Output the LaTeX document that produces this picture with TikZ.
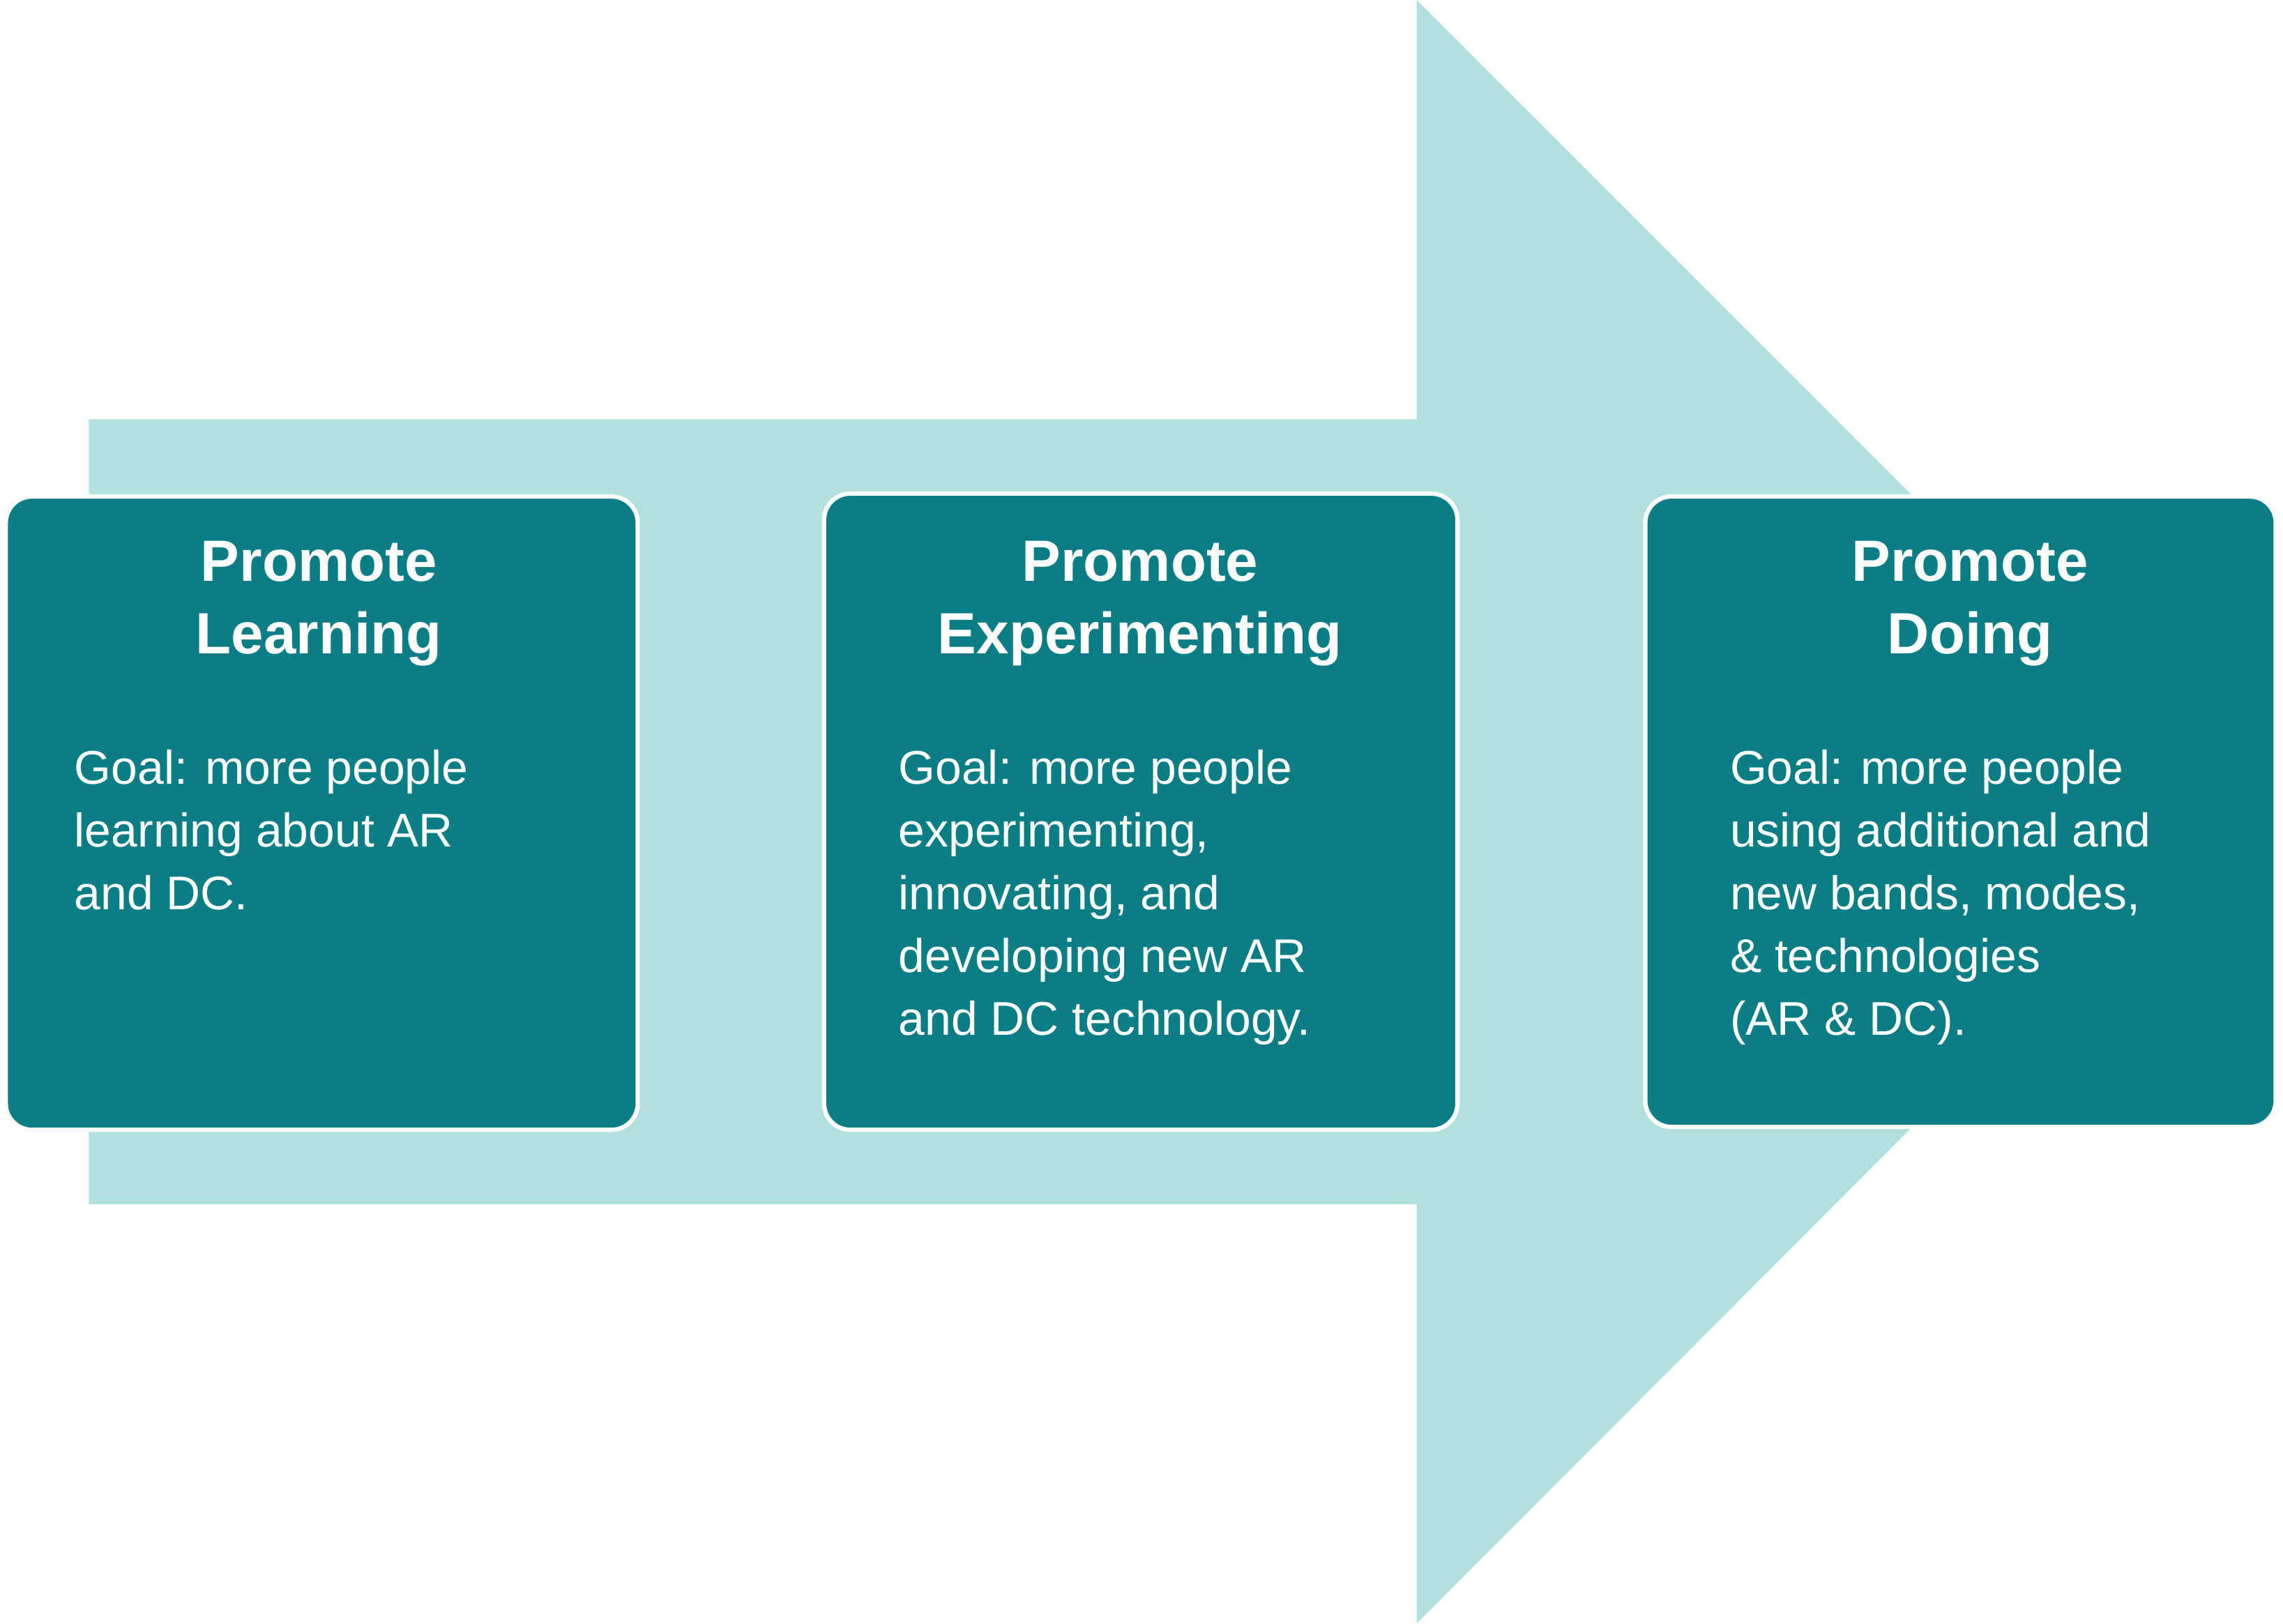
\documentclass[tikz,border=0pt]{standalone}
\usepackage{fontspec}
\setmainfont{Liberation Sans}
\definecolor{arrowc}{HTML}{B2E0DE}
\definecolor{boxc}{HTML}{0A7E84}
\begin{document}
\begin{tikzpicture}[x=1pt,y=-1pt,
  stagebox/.style={draw=white,line width=3pt,fill=boxc,rounded corners=18pt},
  ttl/.style={text=white,font=\fontsize{40}{50}\selectfont\bfseries,align=center,anchor=north},
  body/.style={text=white,font=\fontsize{32.5}{43}\selectfont,align=left,anchor=north west,inner sep=0pt}]
\useasboundingbox (0,0) rectangle (1568,1115);
\fill[arrowc] (61,288) -- (973,288) -- (973,0) -- (1530,557) -- (973,1115) -- (973,827) -- (61,827) -- cycle;
\draw[stagebox] (4,341) rectangle (438,776);
\draw[stagebox] (566,339) rectangle (1001,776);
\draw[stagebox] (1130,341) rectangle (1563,774);
\node[ttl] (t1) at (219,368) {Promote\\Learning};
\node[ttl] (t2) at (783,368) {Promote\\Experimenting};
\node[ttl] (t3) at (1353,368) {Promote\\Doing};
\node[body] (b1) at (51,515) {Goal: more people\\learning about AR\\and DC.};
\node[body] (b2) at (617,515) {Goal: more people\\experimenting,\\innovating, and\\developing new AR\\and DC technology.};
\node[body] (b3) at (1188,515) {Goal: more people\\using additional and\\new bands, modes,\\\& technologies\\(AR \& DC).};
\end{tikzpicture}
\end{document}
